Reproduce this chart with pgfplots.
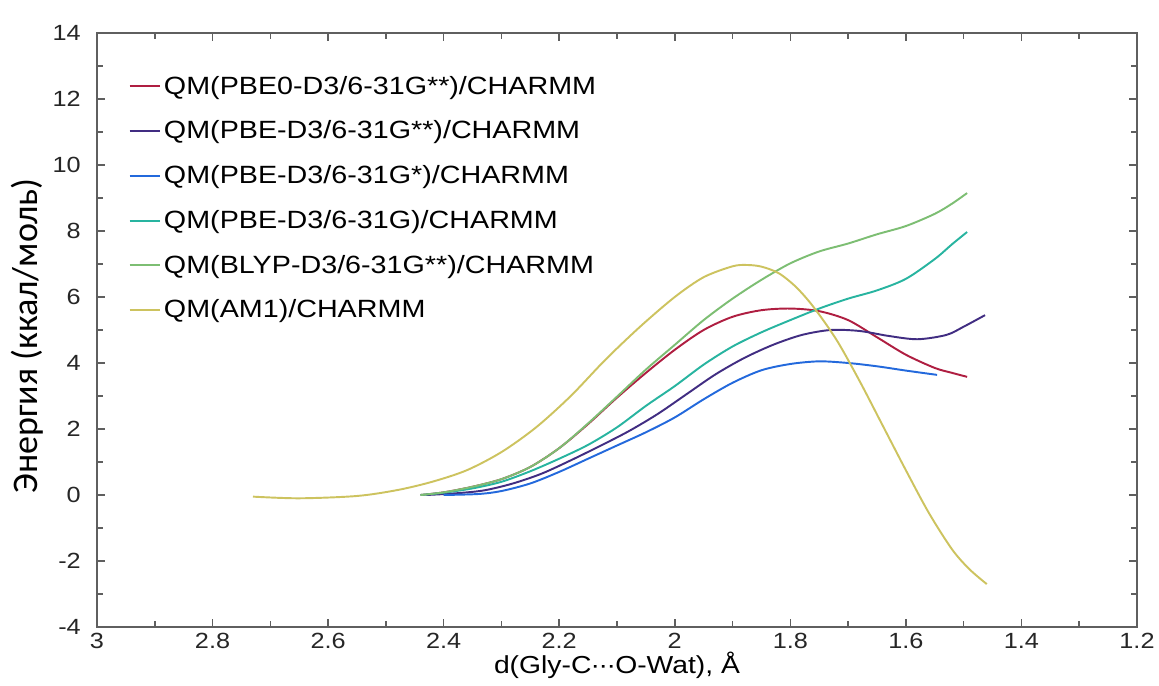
\documentclass[border=0pt]{standalone}
\usepackage{fontspec}
\setmainfont{Liberation Sans}[FakeStretch=1.15]
\newfontfamily\ylfont{Carlito}
\usepackage{pgfplots}
\pgfplotsset{compat=1.18}
\definecolor{cRed}{RGB}{175,30,65}
\definecolor{cPur}{RGB}{65,45,130}
\definecolor{cBlue}{RGB}{35,105,220}
\definecolor{cTeal}{RGB}{40,180,160}
\definecolor{cGreen}{RGB}{125,190,115}
\definecolor{cYel}{RGB}{205,195,95}
\definecolor{frame}{RGB}{95,95,95}
\begin{document}
\begin{tikzpicture}
\begin{axis}[name=ax,
  scale only axis, width=20.8cm, height=11.88cm,
  x dir=reverse, xmin=1.2, xmax=3, ymin=-4, ymax=14,
  xtick={1.2,1.4,1.6,1.8,2,2.2,2.4,2.6,2.8,3},
  ytick={-4,-2,0,2,4,6,8,10,12,14},
  minor x tick num=1, minor y tick num=1,
  tick align=inside, major tick length=0.16cm, minor tick length=0.12cm,
  axis line style={frame, line width=1.1pt},
  every tick/.style={frame, line width=0.9pt},
  /pgf/number format/assume math mode=true,
  tick label style={font=\fontsize{12.5}{14}\selectfont, text=black!85},
  yticklabel style={xshift=-0.2cm},
  xlabel={d(Gly-C\kern-0.03em·\kern-0.06em·\kern-0.06em·\kern-0.03em O-Wat), Å},
  ylabel={Энергия (ккал/моль)},
  every axis x label/.style={at={(axis description cs:0.5,-0.064)}, anchor=center, font=\fontsize{14}{16}\selectfont},
  every axis y label/.style={at={(axis description cs:-0.0673,0.49)}, anchor=center, rotate=90, font=\ylfont\fontsize{20.5}{24}\selectfont},
  legend cell align=left,
  legend style={at={(0.03,0.934)}, anchor=north west, draw=none, fill=none,
    font=\fontsize{14.2}{16}\selectfont, row sep=0.34cm, inner sep=0pt},
  every axis plot/.append style={line width=1.1pt, smooth, tension=0.5, no markers},
]
\addplot[cRed] coordinates {
(2.44,0) (2.40,0.08) (2.35,0.25) (2.30,0.48) (2.25,0.85) (2.20,1.42) (2.15,2.15)
(2.10,2.95) (2.05,3.7) (2.00,4.4) (1.95,5.0) (1.90,5.4) (1.85,5.6) (1.80,5.65)
(1.75,5.57) (1.70,5.3) (1.65,4.78) (1.60,4.25) (1.55,3.85) (1.52,3.7) (1.494,3.58)};
\addlegendentry{QM(PBE0-D3/6-31G**)/CHARMM}
\addplot[cPur] coordinates {
(2.43,0) (2.38,0.05) (2.33,0.14) (2.28,0.35) (2.23,0.65) (2.18,1.05) (2.13,1.48)
(2.08,1.93) (2.03,2.45) (1.98,3.05) (1.93,3.65) (1.88,4.15) (1.83,4.55) (1.78,4.85)
(1.73,5.0) (1.68,4.97) (1.63,4.82) (1.58,4.72) (1.53,4.85) (1.50,5.1) (1.463,5.45)};
\addlegendentry{QM(PBE-D3/6-31G**)/CHARMM}
\addplot[cBlue] coordinates {
(2.40,0) (2.34,0.03) (2.30,0.12) (2.25,0.35) (2.20,0.7) (2.15,1.1) (2.10,1.5)
(2.05,1.9) (2.00,2.35) (1.95,2.9) (1.90,3.4) (1.85,3.78) (1.80,3.97) (1.75,4.05)
(1.70,4.0) (1.65,3.9) (1.60,3.77) (1.546,3.64)};
\addlegendentry{QM(PBE-D3/6-31G*)/CHARMM}
\addplot[cTeal] coordinates {
(2.44,0) (2.40,0.07) (2.35,0.2) (2.30,0.4) (2.25,0.72) (2.20,1.1) (2.15,1.52)
(2.10,2.05) (2.05,2.7) (2.00,3.3) (1.95,3.95) (1.90,4.5) (1.85,4.93) (1.80,5.3)
(1.75,5.65) (1.70,5.95) (1.65,6.2) (1.60,6.55) (1.55,7.15) (1.52,7.6) (1.494,7.97)};
\addlegendentry{QM(PBE-D3/6-31G)/CHARMM}
\addplot[cGreen] coordinates {
(2.44,0) (2.40,0.08) (2.35,0.25) (2.30,0.48) (2.25,0.85) (2.20,1.42) (2.15,2.17)
(2.10,2.98) (2.05,3.8) (2.00,4.55) (1.95,5.3) (1.90,5.95) (1.85,6.52) (1.80,7.02)
(1.75,7.38) (1.70,7.62) (1.65,7.9) (1.60,8.15) (1.55,8.52) (1.52,8.83) (1.494,9.15)};
\addlegendentry{QM(BLYP-D3/6-31G**)/CHARMM}
\addplot[cYel] coordinates {
(2.73,-0.05) (2.65,-0.1) (2.55,-0.03) (2.48,0.15) (2.42,0.4) (2.36,0.75)
(2.30,1.3) (2.24,2.05) (2.18,3.0) (2.12,4.1) (2.06,5.1) (2.00,6.0)
(1.95,6.6) (1.90,6.93) (1.875,6.97) (1.85,6.92) (1.82,6.72) (1.79,6.3) (1.76,5.7)
(1.72,4.7) (1.68,3.45) (1.64,2.1) (1.60,0.75) (1.56,-0.55) (1.52,-1.65)
(1.49,-2.25) (1.46,-2.7)};
\addlegendentry{QM(AM1)/CHARMM}
\end{axis}
\pgfresetboundingbox
\useasboundingbox ([xshift=-1.94cm,yshift=-1.18cm]ax.south west) rectangle ([xshift=0.44cm,yshift=0.66cm]ax.north east);
\end{tikzpicture}
\end{document}
